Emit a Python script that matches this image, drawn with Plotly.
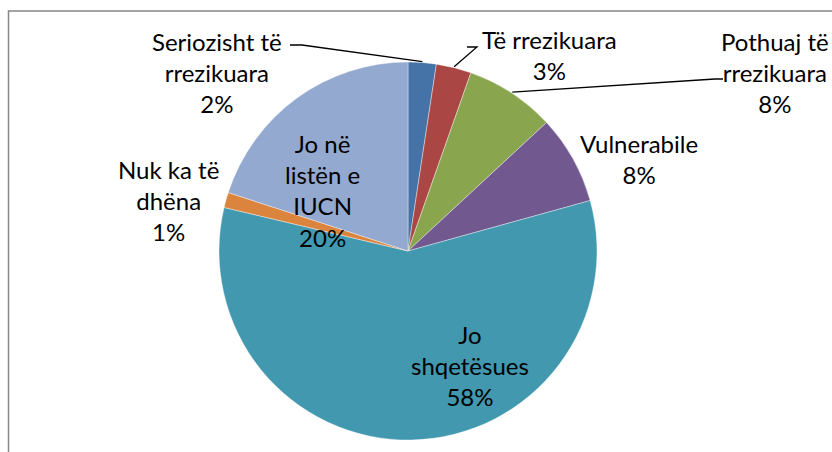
import math
import plotly.graph_objects as go

# ---- data ----
categories = [
    "Seriozisht të rrezikuara",
    "Të rrezikuara",
    "Pothuaj të rrezikuara",
    "Vulnerabile",
    "Jo shqetësues",
    "Nuk ka të dhëna",
    "Jo në listën e IUCN",
]
values = [2.4, 3.0, 7.7, 7.6, 58.0, 1.3, 20.0]
label_text = [
    "Seriozisht të<br>rrezikuara",
    "Të rrezikuara",
    "Pothuaj të<br>rrezikuara",
    "Vulnerabile",
    "Jo<br>shqetësues",
    "Nuk ka të<br>dhëna",
    "Jo në<br>listën e<br>IUCN",
]
colors = ["#4572A7", "#AA4643", "#89A54E", "#71588F", "#4198AF", "#DB843D", "#93A9CF"]

W, H = 832, 452
CX, CY, R = 408, 251, 189

# label anchor positions (pixels) and leader-line elbows (None = no leader)
label_pos = [(217, 72), (549, 55), (775, 72), (639, 159), (470, 365), (168, 200), (322, 191)]
leader_elbow = [
    [(290, 45), (302, 45)],
    [(467, 47), (477, 47)],
    [(723, 79), (715, 79)],
    None, None, None, None,
]

def px(x):
    return x / W

def py(y):
    return 1 - y / H

total = sum(values)
pcts = [round(v / total * 100) for v in values]

fig = go.Figure()
fig.add_trace(go.Pie(
    labels=categories,
    values=values,
    sort=False,
    direction="clockwise",
    rotation=0,
    textinfo="none",
    hoverinfo="label+percent",
    marker=dict(colors=colors, line=dict(color="rgba(255,255,255,0.55)", width=0.7)),
    domain=dict(x=[px(CX - R), px(CX + R)], y=[py(CY + R), py(CY - R)]),
    showlegend=False,
))

annotations = []
shapes = []
cum = 0.0
for i, v in enumerate(values):
    mid = (cum + v / 2) / total * 2 * math.pi
    cum += v
    lx, ly = label_pos[i]
    annotations.append(dict(
        x=px(lx), y=py(ly), xref="paper", yref="paper",
        text=f"{label_text[i]}<br>{pcts[i]}%",
        showarrow=False, xanchor="center", yanchor="middle",
        font=dict(family="Lato, 'Open Sans', sans-serif", size=24, color="#000000"),
        align="center",
    ))
    if leader_elbow[i]:
        ex = CX + (R + 1) * math.sin(mid)
        ey = CY - (R + 1) * math.cos(mid)
        pts = leader_elbow[i] + [(ex, ey)]
        path = "M " + " L ".join(f"{px(x):.5f},{py(y):.5f}" for x, y in pts)
        shapes.append(dict(type="path", path=path, xref="paper", yref="paper",
                           line=dict(color="#000000", width=1.3)))

# chart frame (cropped at right/bottom)
shapes.append(dict(type="path", xref="paper", yref="paper",
                   path=f"M {px(8.5)},-0.05 L {px(8.5)},{py(11)} L 1.05,{py(11)}",
                   line=dict(color="#878787", width=1.5)))

fig.update_layout(
    width=W, height=H,
    margin=dict(l=0, r=0, t=0, b=0),
    paper_bgcolor="white", plot_bgcolor="white",
    annotations=annotations,
    shapes=shapes,
)

fig.write_html("out.html", config={"displayModeBar": False})

# remove the browser's default body margin so the figure sits at the page origin
with open("out.html", encoding="utf-8") as f:
    html = f.read()
html = html.replace("<body>", '<body style="margin:0;padding:0;overflow:hidden">', 1)
with open("out.html", "w", encoding="utf-8") as f:
    f.write(html)
